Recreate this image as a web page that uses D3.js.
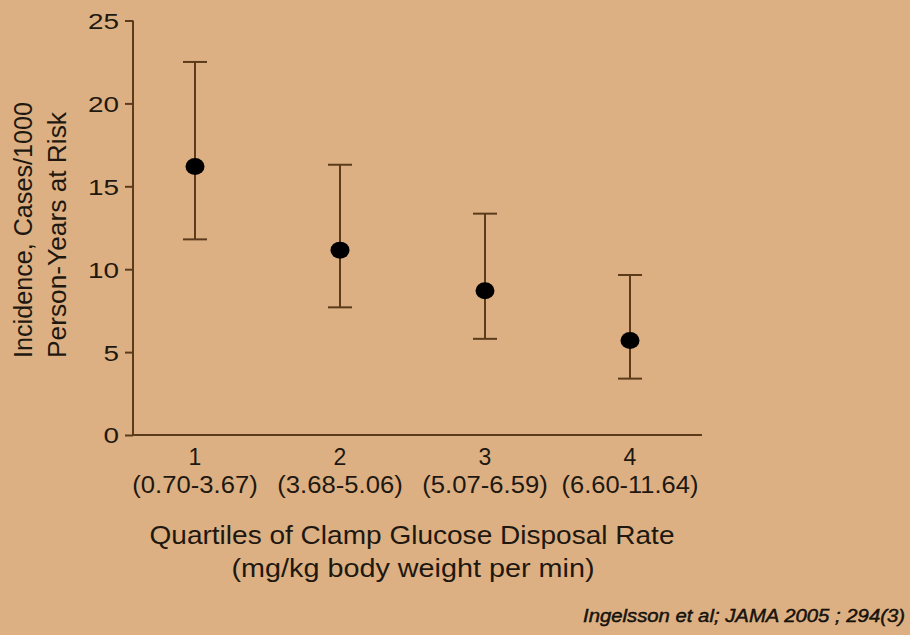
<!DOCTYPE html>
<html>
<head>
<meta charset="utf-8">
<script src="https://cdn.jsdelivr.net/npm/d3@7"></script>
<style>
  body { margin: 0; background: #dcb083; }
  text { font-family: "Liberation Sans", Arial, sans-serif; fill: #1e1810; }
</style>
</head>
<body>
<div id="chart"></div>
<script>
// quartiles of clamp glucose disposal rate
var quartiles = ["1", "2", "3", "4"];
var ranges = ["(0.70-3.67)", "(3.68-5.06)", "(5.07-6.59)", "(6.60-11.64)"];
var incidence = [16.2, 11.15, 8.7, 5.7];
var ciLow = [11.8, 7.7, 5.8, 3.4];
var ciHigh = [22.5, 16.3, 13.35, 9.65];
var yTicks = [0, 5, 10, 15, 20, 25];

var W = 910, H = 635;
var axisColor = "#5b3b1c";

// reference text is a bit wider than Arial, so stretch to the measured width
function fit(sel, w) {
  sel.attr("textLength", w).attr("lengthAdjust", "spacingAndGlyphs");
}

var svg = d3.select("#chart").append("svg")
    .attr("width", W).attr("height", H);

svg.append("rect").attr("width", W).attr("height", H).attr("fill", "#dcb083");

var y = d3.scaleLinear().domain([0, 25]).range([435, 20.5]);
var x = d3.scalePoint().domain(quartiles).range([195, 630]);

// y axis
var yAxis = svg.append("g").attr("transform", "translate(133,0)")
    .call(d3.axisLeft(y).tickValues(yTicks).tickSize(8).tickPadding(6));
yAxis.select(".domain").remove();
yAxis.selectAll(".tick line").attr("stroke", axisColor).attr("stroke-width", 2);
yAxis.selectAll(".tick text").style("font-size", "22px").attr("fill", "#1e1810")
    .attr("dy", "0.36em")
    .each(function(d) { fit(d3.select(this), 15.5 * String(d).length); });

svg.append("line")
    .attr("x1", 133).attr("x2", 133)
    .attr("y1", y(25)).attr("y2", y(0))
    .attr("stroke", axisColor).attr("stroke-width", 2);
svg.append("line")
    .attr("x1", 132).attr("x2", 702)
    .attr("y1", y(0)).attr("y2", y(0))
    .attr("stroke", axisColor).attr("stroke-width", 2);

// category labels
var cat = svg.append("g");
cat.selectAll("text.q")
    .data(quartiles)
    .enter().append("text")
    .attr("class", "q")
    .attr("x", function(d) { return x(d); })
    .attr("y", 465)
    .attr("text-anchor", "middle")
    .style("font-size", "23px")
    .text(function(d) { return d; });
cat.selectAll("text.r")
    .data(ranges)
    .enter().append("text")
    .attr("class", "r")
    .attr("x", function(d, i) { return x(quartiles[i]); })
    .attr("y", 493)
    .attr("text-anchor", "middle")
    .style("font-size", "23px")
    .text(function(d) { return d; })
    .each(function(d) { fit(d3.select(this), 11.4 * d.length); });

// error bars
var pts = quartiles.map(function(q, i) {
  return {q: q, v: incidence[i], lo: ciLow[i], hi: ciHigh[i]};
});

var bars = svg.selectAll("g.bar").data(pts).enter().append("g").attr("class", "bar");
bars.append("line")
    .attr("x1", function(d) { return x(d.q); })
    .attr("x2", function(d) { return x(d.q); })
    .attr("y1", function(d) { return y(d.lo); })
    .attr("y2", function(d) { return y(d.hi); })
    .attr("stroke", axisColor).attr("stroke-width", 2);
["hi", "lo"].forEach(function(k) {
  bars.append("line")
      .attr("x1", function(d) { return x(d.q) - 12; })
      .attr("x2", function(d) { return x(d.q) + 12; })
      .attr("y1", function(d) { return y(d[k]); })
      .attr("y2", function(d) { return y(d[k]); })
      .attr("stroke", axisColor).attr("stroke-width", 2);
});
bars.append("ellipse")
    .attr("cx", function(d) { return x(d.q); })
    .attr("cy", function(d) { return y(d.v); })
    .attr("rx", 9.5).attr("ry", 8.5)
    .attr("fill", "#000");

// titles
svg.append("text")
    .attr("x", 412).attr("y", 544)
    .attr("text-anchor", "middle")
    .style("font-size", "26px")
    .text("Quartiles of Clamp Glucose Disposal Rate")
    .call(fit, 525);
svg.append("text")
    .attr("x", 413).attr("y", 577)
    .attr("text-anchor", "middle")
    .style("font-size", "26px")
    .text("(mg/kg body weight per min)")
    .call(fit, 363);

svg.append("text")
    .attr("transform", "translate(32,358) rotate(-90)")
    .style("font-size", "25px")
    .text("Incidence, Cases/1000")
    .call(fit, 256);
svg.append("text")
    .attr("transform", "translate(66,358) rotate(-90)")
    .style("font-size", "25px")
    .text("Person-Years at Risk")
    .call(fit, 246);

svg.append("text")
    .attr("x", 905).attr("y", 622)
    .attr("text-anchor", "end")
    .style("font-size", "18px")
    .style("font-style", "italic")
    .attr("fill", "#000")
    .attr("stroke", "#000").attr("stroke-width", 0.4)
    .text("Ingelsson et al; JAMA 2005 ; 294(3)")
    .call(fit, 322);
</script>
</body>
</html>
